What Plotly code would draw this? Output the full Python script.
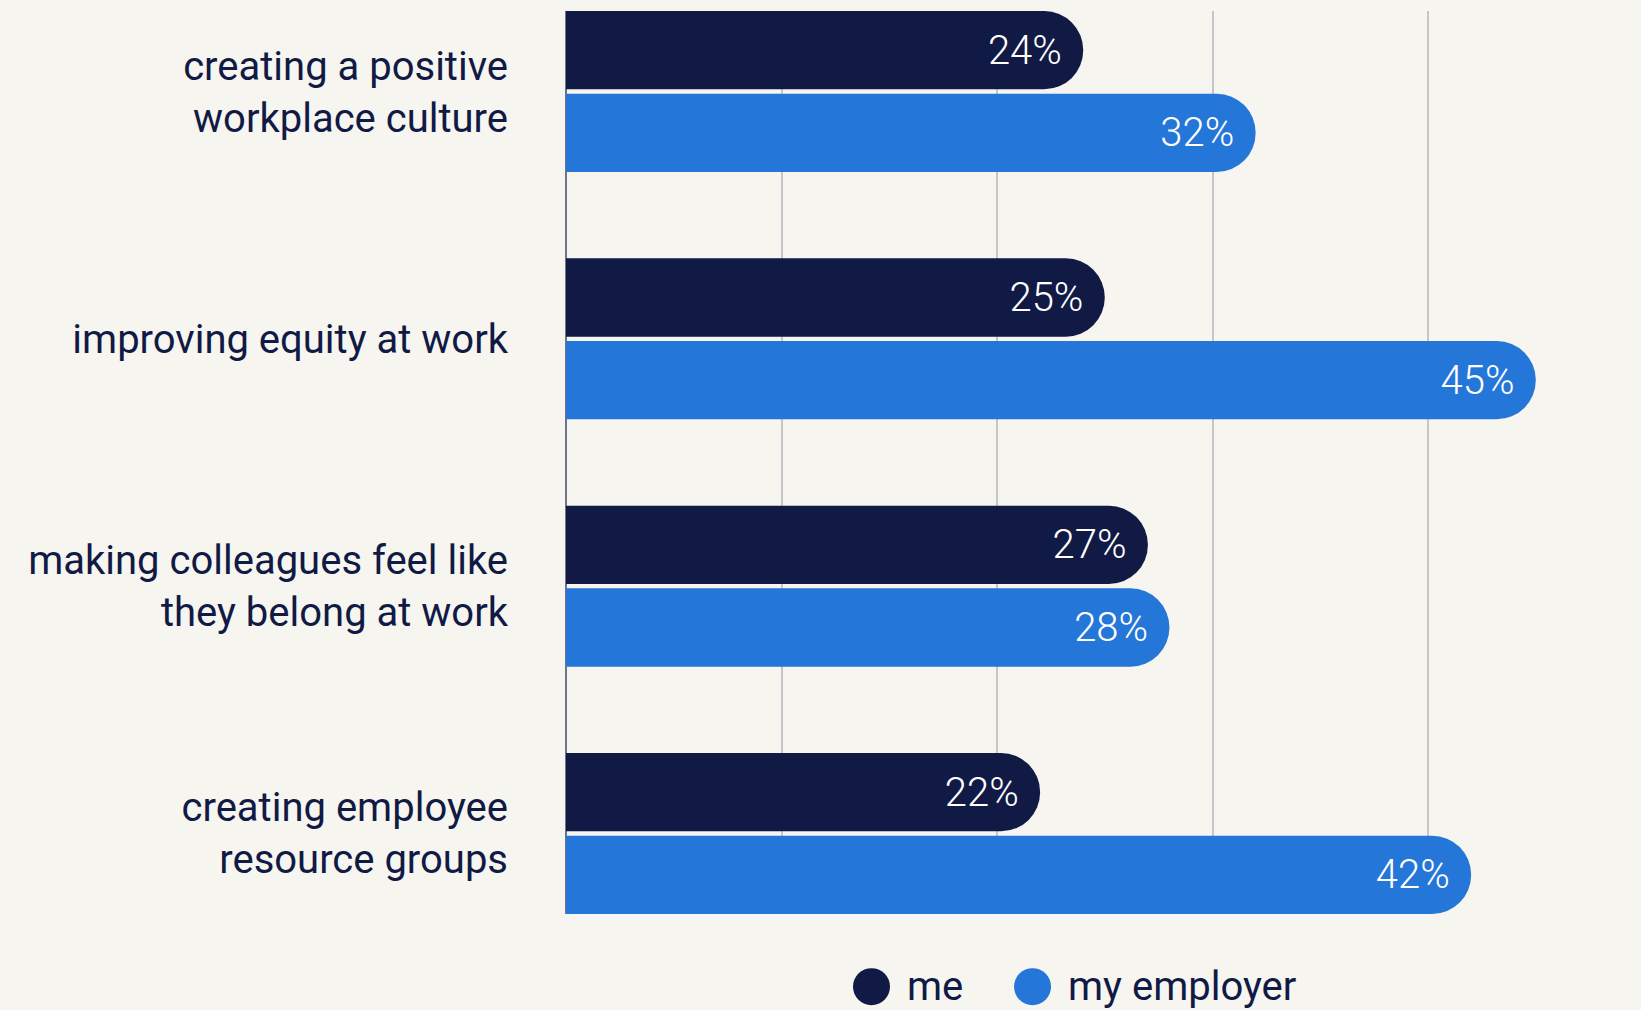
import plotly.graph_objects as go

categories = [
    "creating a positive<br>workplace culture",
    "improving equity at work",
    "making colleagues feel like<br>they belong at work",
    "creating employee<br>resource groups",
]
me_values = [24, 25, 27, 22]
employer_values = [32, 45, 28, 42]
series_names = ["me", "my employer"]
x_gridlines = [0, 10, 20, 30, 40]

NAVY = "#111a44"
BLUE = "#2476d8"
BG = "#f6f5f0"
FONT = "Roboto"

fig = go.Figure()
for name, vals, col in [(series_names[0], me_values, NAVY), (series_names[1], employer_values, BLUE)]:
    fig.add_trace(go.Bar(
        y=categories, x=vals, name=name, orientation="h",
        marker=dict(color=col, cornerradius="50%", line=dict(width=0)),
        texttemplate="%{x}%\u00a0", textposition="inside", insidetextanchor="end",
        textfont=dict(family=FONT, size=40, color="white", weight=300),
        showlegend=False, hoverinfo="skip",
    ))

fig.update_layout(
    width=1641, height=1010,
    margin=dict(l=566, r=19, t=11, b=96),
    paper_bgcolor=BG, plot_bgcolor=BG,
    barmode="group", bargap=0.3313, bargroupgap=0.053,
    font=dict(family=FONT, color=NAVY),
    xaxis=dict(range=[0, 49], tickvals=x_gridlines, showticklabels=False,
               showgrid=True, gridcolor="#c5c6ca", gridwidth=1.5,
               zeroline=True, zerolinecolor="#6f7387", zerolinewidth=2,
               showline=False, fixedrange=True),
    yaxis=dict(type="category", categoryorder="array", categoryarray=categories,
               range=[3.3255, -0.3255], showgrid=False, zeroline=False,
               showline=False, ticks="", ticklabelstandoff=57,
               tickfont=dict(family=FONT, size=40, color=NAVY, weight=400),
               fixedrange=True),
)

# custom legend (large circles)
LEG_Y = -0.0805
legend_items = [(series_names[0], NAVY, 0.2893, 0.3220), (series_names[1], BLUE, 0.4418, 0.4744)]
for name, col, cx, tx in legend_items:
    fig.add_shape(type="circle", xref="paper", yref="paper",
                  xsizemode="pixel", ysizemode="pixel",
                  xanchor=cx, yanchor=LEG_Y, x0=-18.5, x1=18.5, y0=-18.5, y1=18.5,
                  fillcolor=col, line=dict(width=0), layer="above")
    fig.add_annotation(text=name, xref="paper", yref="paper", x=tx, y=LEG_Y,
                       xanchor="left", yanchor="middle", showarrow=False,
                       font=dict(family=FONT, size=40, color=NAVY), borderpad=0)

fig.write_html(
    "out.html",
    config={"displayModeBar": False},
    post_script="document.body.style.margin='0';document.body.style.padding='0';"
                "document.body.style.overflow='hidden';",
)
